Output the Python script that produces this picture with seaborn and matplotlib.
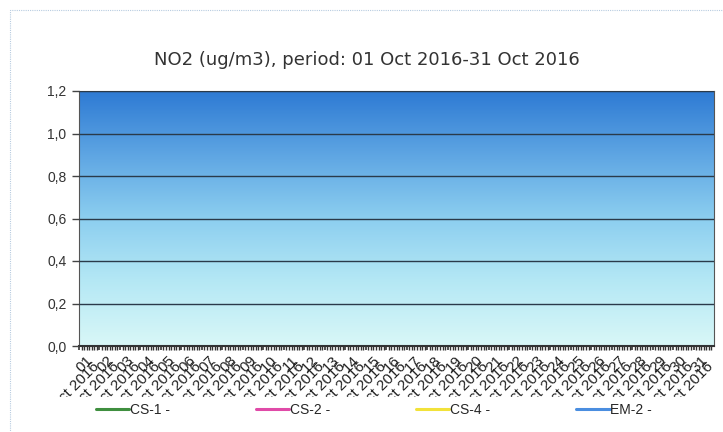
import numpy as np
import pandas as pd
import matplotlib
matplotlib.use("Agg")
import matplotlib.pyplot as plt
import seaborn as sns
from matplotlib.lines import Line2D
from matplotlib.transforms import Bbox, ScaledTranslation
from matplotlib.patches import Rectangle

# ---- data ----
days = list(range(1, 32))
tick_labels = [f"{d:02d}\nOct 2016" for d in days]
series_names = ["CS-1 -", "CS-2 -", "CS-4 -", "EM-2 -"]
series_colors = ["#3f8f3f", "#e04aa8", "#f2e23a", "#4a8ee0"]
# no measurements available in the period (empty series)
cs1 = [np.nan] * len(days)
cs2 = [np.nan] * len(days)
cs4 = [np.nan] * len(days)
em2 = [np.nan] * len(days)
yticks = [0.0, 0.2, 0.4, 0.6, 0.8, 1.0, 1.2]
ytick_labels = ["0,0", "0,2", "0,4", "0,6", "0,8", "1,0", "1,2"]
title = "NO2 (ug/m3), period: 01 Oct 2016-31 Oct 2016"

sns.set_theme(style="white")
plt.rcParams["font.family"] = ["Liberation Sans", "DejaVu Sans"]

fig = plt.figure(figsize=(7.23, 4.32), dpi=100)
fig.patch.set_facecolor("white")
W, H = 723, 432
ax = fig.add_axes([79 / W, 1 - 346 / H, (714 - 79) / W, (346 - 91) / H])

df = pd.DataFrame({"day": np.arange(len(days)), "CS-1 -": cs1, "CS-2 -": cs2,
                   "CS-4 -": cs4, "EM-2 -": em2})
for name, col in zip(series_names, series_colors):
    ax.plot(df["day"], df[name], color=col, lw=2, label=name)

ax.set_xlim(0, len(days))
ax.set_ylim(0, 1.2)

# gradient background
stops = np.array([
    [0.00, 0.85, 0.97, 0.97],
    [0.25, 0.71, 0.91, 0.96],
    [0.50, 0.55, 0.81, 0.94],
    [0.75, 0.37, 0.65, 0.89],
    [1.00, 0.18, 0.48, 0.83],
])
yy = np.linspace(0, 1, 256)
grad = np.stack([np.interp(yy, stops[:, 0], stops[:, i]) for i in (1, 2, 3)], axis=-1)
grad = grad[:, None, :]
ax.imshow(grad, extent=[0, len(days), 0, 1.2], origin="lower", aspect="auto", zorder=0)

ax.set_yticks(yticks)
ax.set_yticklabels(ytick_labels, fontsize=10, color="#333333")
ax.yaxis.grid(True, color="#2a3a4a", lw=1.0, zorder=1)
ax.set_axisbelow(False)
ax.tick_params(axis="y", length=5, width=1, color="#444444", pad=4, left=True)

ax.set_xticks(np.arange(len(days)))
ax.set_xticks(np.arange(0, len(days), 0.125), minor=True)
ax.tick_params(axis="x", which="major", length=3, width=1.2, color="#333333", bottom=True, pad=2)
ax.tick_params(axis="x", which="minor", length=3, width=1.0, color="#333333", bottom=True)
labs = ax.set_xticklabels(tick_labels, fontsize=11, rotation=45, ha="right",
                          rotation_mode="anchor", linespacing=0.5, color="#222222",
                          multialignment="right")
clip = Bbox([[0, H - 397], [W, H - 346]])
shift = ScaledTranslation(7 / 100, 0, fig.dpi_scale_trans)
for t in labs:
    t.set_transform(t.get_transform() + shift)
    t.set_clip_on(True)
    t.set_clip_box(clip)

for s in ax.spines.values():
    s.set_color("#555555")
    s.set_linewidth(0.8)
ax.spines["bottom"].set_linewidth(1.5)
ax.spines["bottom"].set_color("#333333")

fig.text(0.508, 1 - 60 / H, title, ha="center", va="center", fontsize=13,
         family="DejaVu Sans", color="#333333")

handles = [Line2D([0], [0], color=c, lw=2.2) for c in series_colors]
fig.legend(handles, series_names, loc="center", bbox_to_anchor=(0.517, 1 - 410 / H),
           ncol=4, frameon=False, fontsize=10, handlelength=2.4, handletextpad=0.05,
           columnspacing=6.2)

# light dotted outer frame
fig.patches.append(Rectangle((10 / W, -0.05), 1.2, 1 - 10 / H + 0.05, transform=fig.transFigure,
                             fill=False, ec="#b8cce0", lw=0.8, ls=(0, (1, 1))))

fig.savefig("out.png", dpi=100)
